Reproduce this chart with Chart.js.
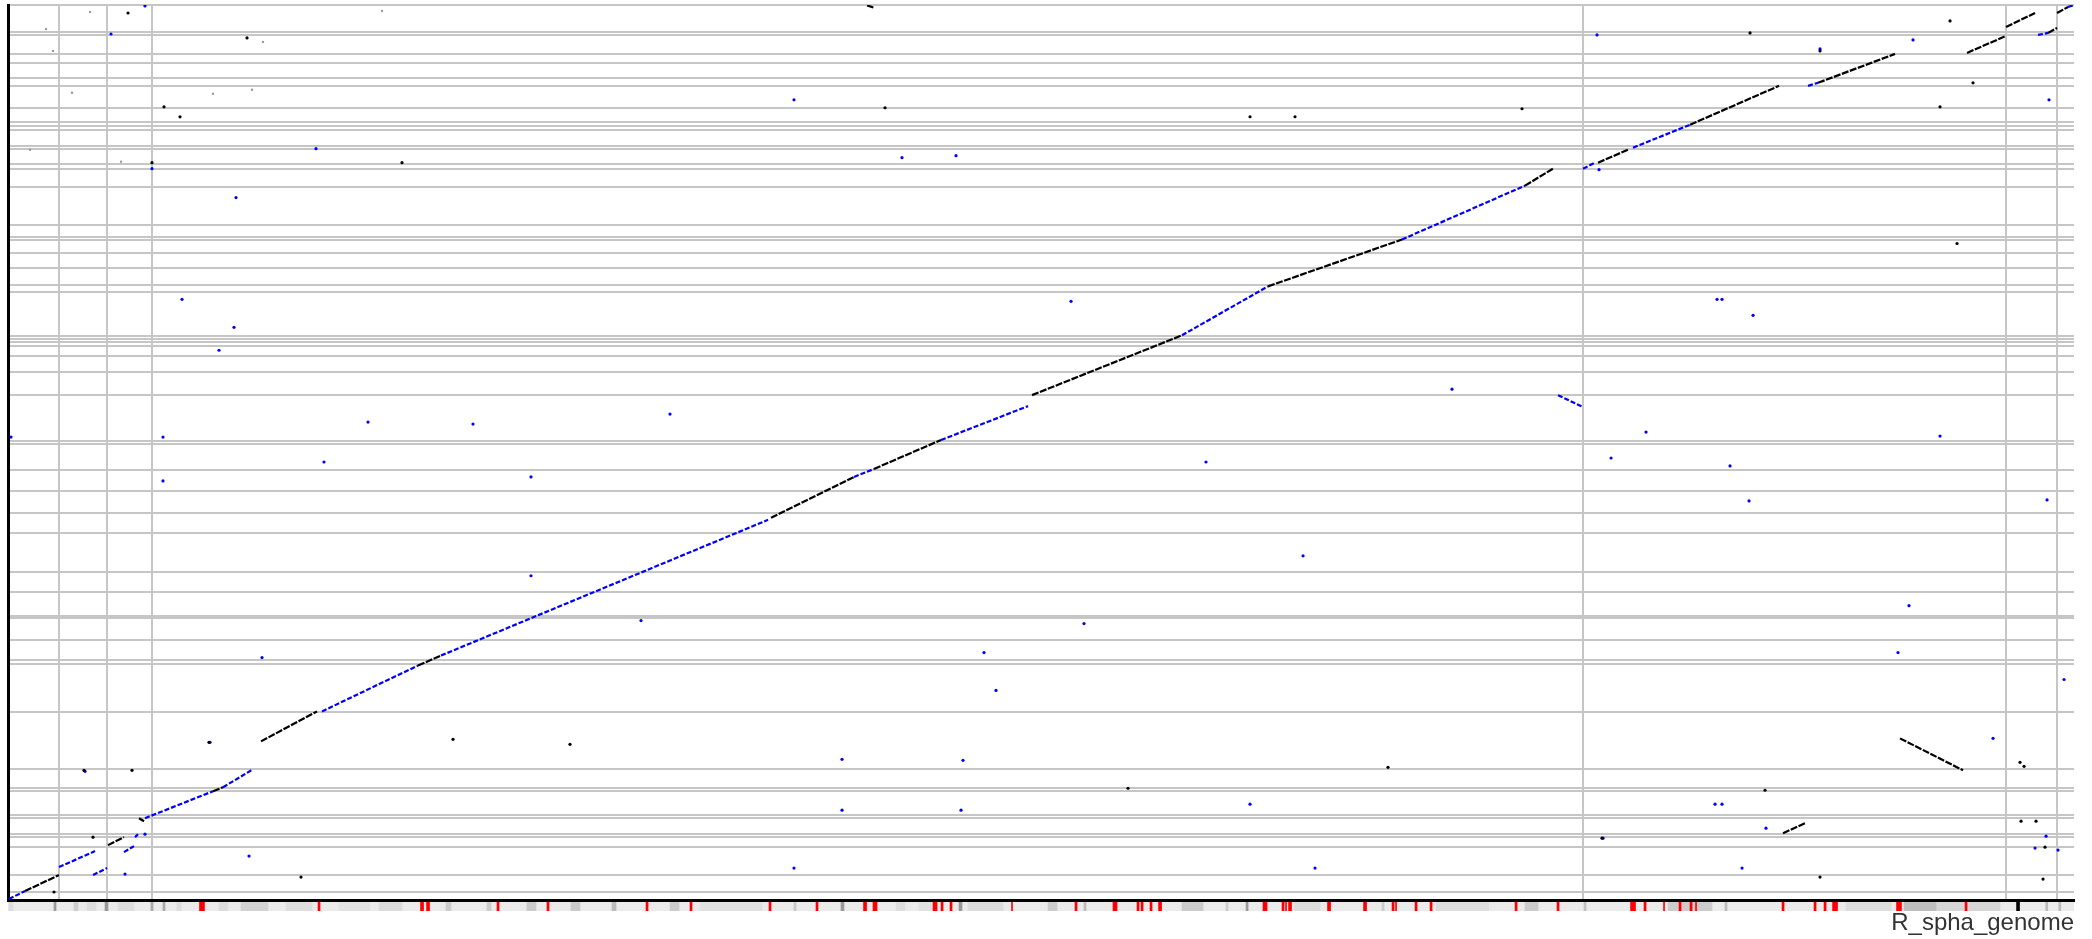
<!DOCTYPE html>
<html><head><meta charset="utf-8">
<script src="https://cdn.jsdelivr.net/npm/chart.js@4"></script>
<style>
html,body{margin:0;padding:0;background:#fff;width:2092px;height:939px;overflow:hidden}
#c1{position:absolute;left:0;top:0}
#c2{position:absolute;left:0;top:902px}
</style></head><body>
<canvas id="c1" width="2092" height="904"></canvas>
<canvas id="c2" width="2092" height="37"></canvas>
<script>
// ---- axis extents (kb) ----
const refLength = 4602.977;
const qryLength = 4540;
// reference sequence boundaries (cumulative kb): plasmids, chr1, chr2, plasmids
const refBounds = [114.178, 219.462, 320.29, 3508.814, 4451.832, 4565.877];
// query contig boundaries (cumulative kb)
const qryBounds = [40.5,126.5,268.2,318.9,334.0,415.0,430.2,551.7,566.9,663.0,951.5,1199.5,1219.8,1321.0,1432.3,1442.5,
 1563.9,1665.2,1862.6,1963.8,2075.1,2181.4,2313.0,2328.2,2561.0,2677.4,2758.4,2809.0,2829.3,2844.5,2859.6,3082.3,3117.8,
 3203.8,3279.7,3345.5,3360.7,3426.5,3618.8,3709.9,3735.2,3811.2,3826.3,3907.3,3927.6,3947.8,4018.7,4130.0,4170.5,4246.4,
 4292.0,4388.1,4403.3];

// ---- alignments: [refStart, qryStart, refEnd, qryEnd] (kb) ----
const forwardSegs = [
 [37.9,45.6,113.6,126.5],[222.8,278.4,258.4,318.9],[291.9,415.0,303.0,399.8],[456.7,551.7,479.0,571.9],
 [563.7,804.7,688.5,956.6],[913.5,1189.4,964.7,1240.0],[1700.0,1938.5,1884.9,2146.0],[1929.4,2186.5,2078.7,2333.3],
 [2281.5,2561.0,2615.7,2864.7],[2807.3,3112.7,3105.8,3350.6],[3380.0,3623.9,3442.3,3709.9],[3542.5,3740.3,3609.4,3806.1],
 [3747.5,3932.6,3945.8,4130.0],[4032.7,4145.2,4204.2,4292.0],[4364.7,4297.0,4451.5,4383.1],[4451.5,4428.7,4516.2,4499.5],
 [4545.1,4398.3,4565.2,4423.6],[4565.2,4499.5,4589.7,4530.0],[4215.3,819.9,4355.7,658.0],[3954.7,339.1,4003.7,389.7],
 [1914.0,4538.0,1928.0,4527.0]
];
const blueSegs = [
 [2.2,5.1,37.9,45.6],[113.6,167.0,193.8,248.0],[189.4,126.5,220.6,162.0],[258.4,242.9,280.7,273.3],
 [283.0,318.9,289.6,334.0],[305.2,415.0,456.7,551.7],[479.0,571.9,545.9,663.0],[699.6,956.6,913.5,1189.4],
 [964.7,1240.0,1693.3,1928.4],[1884.9,2146.0,1929.4,2186.5],[2078.7,2333.3,2272.6,2505.3],[2615.7,2864.7,2807.3,3112.7],
 [3105.8,3350.6,3380.0,3623.9],[3453.4,2561.0,3509.1,2500.3],[3509.1,3709.9,3535.8,3740.3],[3620.5,3816.2,3747.5,3932.6],
 [4010.4,4130.0,4032.7,4145.2],[4522.8,4388.1,4545.1,4398.3],[4589.7,4530.0,4600.8,4538.0]
];
// ---- short hits [ref, qry] (kb) ----
const blackDots = [
 [267.4,4499.5],[532.5,4373.0],[320.8,3740.0],[347.6,4023.7],[383.2,3973.0],[4326.8,4459.0],[4342.4,3330.3],
 [877.8,3740.3],[3373.2,4013.6],[1954.0,4018.7],[2767.2,3973.1],[2867.4,3973.1],[169.3,658.0],[3074.6,673.2],
 [4491.7,678.2],[2495.4,566.9],[1252.1,789.6],[991.5,814.9],[4534.0,106.3],[4538.4,268.2],[4518.4,399.8],
 [4485.0,399.8],[4482.7,698.5],[3551.4,313.8],[3914.6,556.7],[4037.1,116.4],[4037.1,4307.1],[4378.0,4145.2],
 [4304.5,4023.7],[3881.2,4398.3],[276.3,658.0],[189.4,318.9],[102.5,40.5],[652.8,116.4],[447.8,799.7]
];
const blueDots = [
 [260.7,131.6],[171.6,652.9],[537.0,222.7],[305.2,334.0],[320.8,3709.9],[686.2,3811.2],[508.0,3563.2],
 [305.2,4535.0],[229.5,4393.0],[503.5,2905.2],[387.7,3046.9],[470.1,2788.8],[565.9,1229.9],[1165.2,1644.9],
 [1410.3,1417.2],[1474.9,2464.9],[1036.0,2414.2],[802.1,2424.4],[704.0,2221.9],[1165.2,2146.0],[345.3,2348.4],
 [345.3,2125.7],[1751.2,4059.2],[3544.7,3704.9],[3807.7,3046.9],[3818.8,3046.9],[3887.9,2965.9],[3217.2,2591.4],
 [3649.5,2373.7],[3571.5,2242.2],[3836.6,2201.7],[3879.0,2024.5],[4304.5,2353.5],[2885.3,1746.1],[4235.4,1493.1],
 [2669.1,2221.9],[2368.4,3036.8],[4422.6,819.9],[3803.2,485.9],[3818.8,485.9],[3916.8,364.4],[4516.2,263.2],
 [4540.7,323.9],[4567.4,253.1],[3863.4,162.0],[3553.7,313.8],[2123.3,455.5],[1858.2,455.5],[2912.0,162.0],
 [2127.7,708.6],[1858.2,713.6],[2767.2,485.9],[2174.5,1255.2],[2201.3,1062.9],[2397.3,1402.0],[4210.9,1255.2],
 [4580.8,1118.5],[4547.3,4059.2],[4037.1,4317.3],[4244.3,4362.8],[3540.3,4388.1],[2112.1,3775.7],[1991.8,3765.6],
 [6.7,2348.4],[1751.2,162.0],[450.1,799.7],[4542.9,2029.6]
];
const faintDots = [
 [182.7,4504.6],[833.3,4509.6],[568.1,4352.7],[456.7,4089.5],[543.6,4109.8],[142.6,4094.5],[100.3,4307.1],
 [251.8,3745.4],[84.7,4418.6],[49.0,3806.0]
];

// ---- coverage track below the axis: [start, end] kb ----
const trackGrey = [
 [2.2,11.1,'#dcdcdc'],[102.5,107.0,'#9a9a9a'],[147.0,156.0,'#cfcfcf'],[176.0,196.1,'#dddddd'],[216.1,222.8,'#999999'],
 [245.1,280.7,'#dedede'],[318.6,323.1,'#a8a8a8'],[345.3,349.8,'#aaaaaa'],[376.5,385.4,'#dddddd'],[470.1,490.2,'#dcdcdc'],
 [519.1,579.3,'#d2d2d2'],[543.6,548.1,'#b0b0b0'],[565.9,570.4,'#b0b0b0'],[619.4,677.3,'#dedede'],[737.5,806.5,'#e2e2e2'],
 [826.6,877.8,'#dcdcdc'],[975.9,987.0,'#cccccc'],[1067.2,1076.1,'#cccccc'],[1156.3,1176.4,'#cacaca'],[1254.4,1274.4,'#cacaca'],
 [1345.7,1354.6,'#bbbbbb'],[1475.0,1495.0,'#cccccc'],[1541.8,1679.9,'#e0e0e0'],[1751.2,1755.7,'#c8c8c8'],[1855.9,1862.6,'#9a9a9a'],
 [1978.5,1998.5,'#dddddd'],[2029.7,2058.7,'#e0e0e0'],[2118.8,2125.5,'#999999'],[2138.9,2216.9,'#dcdcdc'],[2317.1,2337.2,'#cccccc'],
 [2397.3,2401.8,'#bbbbbb'],[2615.7,2662.5,'#cccccc'],[2713.8,2718.3,'#cccccc'],[2758.4,2762.9,'#9a9a9a'],[2865.2,2923.1,'#dcdcdc'],
 [3061.3,3065.8,'#cccccc'],[3181.6,3299.7,'#dddddd'],[3379.9,3408.8,'#cccccc'],[3511.3,3515.8,'#c0c0c0'],[3698.5,3796.5,'#cccccc'],
 [3825.4,3829.9,'#bbbbbb'],[4095.1,4195.4,'#dddddd'],[4224.3,4295.6,'#bfbfbf'],[4295.6,4438.2,'#d6d6d6'],[4540.0,4544.5,'#bbbbbb'],
 [4569.0,4573.5,'#bbbbbb']
];
const trackRed = [
 [426.7,437.7],[690.7,695.2],[919.1,925.8],[932.5,939.2],[1089.5,1094.0],[1200.9,1205.4],[1421.5,1426.0],[1519.5,1524.0],
 [1695.5,1700.0],[1800.2,1804.7],[1906.1,1912.8],[1927.2,1936.2],[2060.9,2069.9],[2078.8,2083.3],[2098.8,2103.3],
 [2235.8,2238.0],[2377.3,2381.8],[2461.9,2470.9],[2515.4,2519.9],[2524.4,2528.9],[2544.4,2548.9],[2563.4,2570.1],
 [2796.1,2805.1],[2838.5,2843.0],[2846.3,2848.5],[2853.0,2859.7],[2939.9,2946.6],[3020.1,3026.8],[3083.6,3088.1],
 [3091.4,3093.6],[3134.9,3139.4],[3168.3,3172.8],[3357.7,3362.2],[3451.2,3455.7],[3615.0,3626.0],[3645.0,3649.5],
 [3688.5,3690.7],[3723.0,3727.5],[3747.5,3752.0],[3759.8,3762.0],[3952.5,3957.0],[4023.8,4028.3],[4046.1,4050.6],
 [4065.1,4076.1],[4207.6,4218.6],[4360.2,4364.7]
];
const trackBlack = [[4475.0,4481.6]];

// ---------- build ----------
function segData(segs){const d=[];segs.forEach(s=>{d.push({x:s[0],y:s[1]},{x:s[2],y:s[3]},{x:s[2],y:null});});return d;}
function ptData(p){return p.map(q=>({x:q[0],y:q[1]}));}
const gridCol = '#c6c6c6';

new Chart(document.getElementById('c1'), {
  type: 'scatter',
  data: { datasets: [
    {data: segData(forwardSegs), showLine:true, spanGaps:false, borderColor:'#000000', borderWidth:2.2, borderDash:[7,1.5], pointRadius:0, borderCapStyle:'butt'},
    {data: segData(blueSegs), showLine:true, spanGaps:false, borderColor:'#0000ff', borderWidth:2.2, borderDash:[5,2], pointRadius:0, borderCapStyle:'butt'},
    {data: ptData(blackDots), pointRadius:1.6, pointBackgroundColor:'#000', pointBorderWidth:0},
    {data: ptData(blueDots), pointRadius:1.6, pointBackgroundColor:'#0000ff', pointBorderWidth:0},
    {data: ptData(faintDots), pointRadius:1.2, pointBackgroundColor:'#999', pointBorderWidth:0}
  ]},
  options: {
    responsive:false, animation:false, devicePixelRatio:1,
    layout:{padding:{left:8, top:5, right:18, bottom:2}},
    plugins:{legend:{display:false}, tooltip:{enabled:false}},
    scales:{
      x:{type:'linear', min:0, max:refLength,
         ticks:{display:false}, grid:{color:gridCol, lineWidth:2, drawTicks:false},
         border:{color:'#000', width:3},
         afterBuildTicks: s => { s.ticks = refBounds.map(v=>({value:v})); }},
      y:{type:'linear', min:0, max:qryLength,
         ticks:{display:false}, grid:{color:gridCol, lineWidth:2, drawTicks:false},
         border:{color:'#000', width:3},
         afterBuildTicks: s => { s.ticks = qryBounds.concat([qryLength]).map(v=>({value:v})); }}
    }
  }
});

const tds = [];
tds.push({data:[{y:'cov', x:[0, refLength]}], backgroundColor:'#ebebeb', order:4});
const shades = [...new Set(trackGrey.map(t=>t[2]))];
shades.forEach(c => tds.push({data: trackGrey.filter(t=>t[2]===c).map(t=>({y:'cov', x:[t[0],t[1]]})), backgroundColor:c, order:3}));
tds.push({data: trackRed.map(t=>({y:'cov', x:[t[0],t[1]]})), backgroundColor:'#ff0000', order:1});
tds.push({data: trackBlack.map(t=>({y:'cov', x:[t[0],t[1]]})), backgroundColor:'#000000', order:0});
tds.forEach(d=>{d.barPercentage=1; d.categoryPercentage=1; d.grouped=false; d.borderWidth=0;});

new Chart(document.getElementById('c2'), {
  type:'bar',
  data:{labels:['cov'], datasets:tds},
  options:{
    indexAxis:'y', responsive:false, animation:false, devicePixelRatio:1,
    layout:{padding:{left:8, right:18, top:0, bottom:4}},
    plugins:{legend:{display:false}, tooltip:{enabled:false}},
    scales:{
      x:{type:'linear', min:0, max:refLength, ticks:{display:false},
         grid:{display:false, drawTicks:false}, border:{display:false},
         title:{display:true, text:'R_spha_genome', align:'end', color:'#333333',
                font:{family:'"Liberation Sans", Arial, sans-serif', size:24, lineHeight:1}, padding:{top:0,bottom:0}}},
      y:{display:false}
    }
  }
});
</script>
</body></html>
